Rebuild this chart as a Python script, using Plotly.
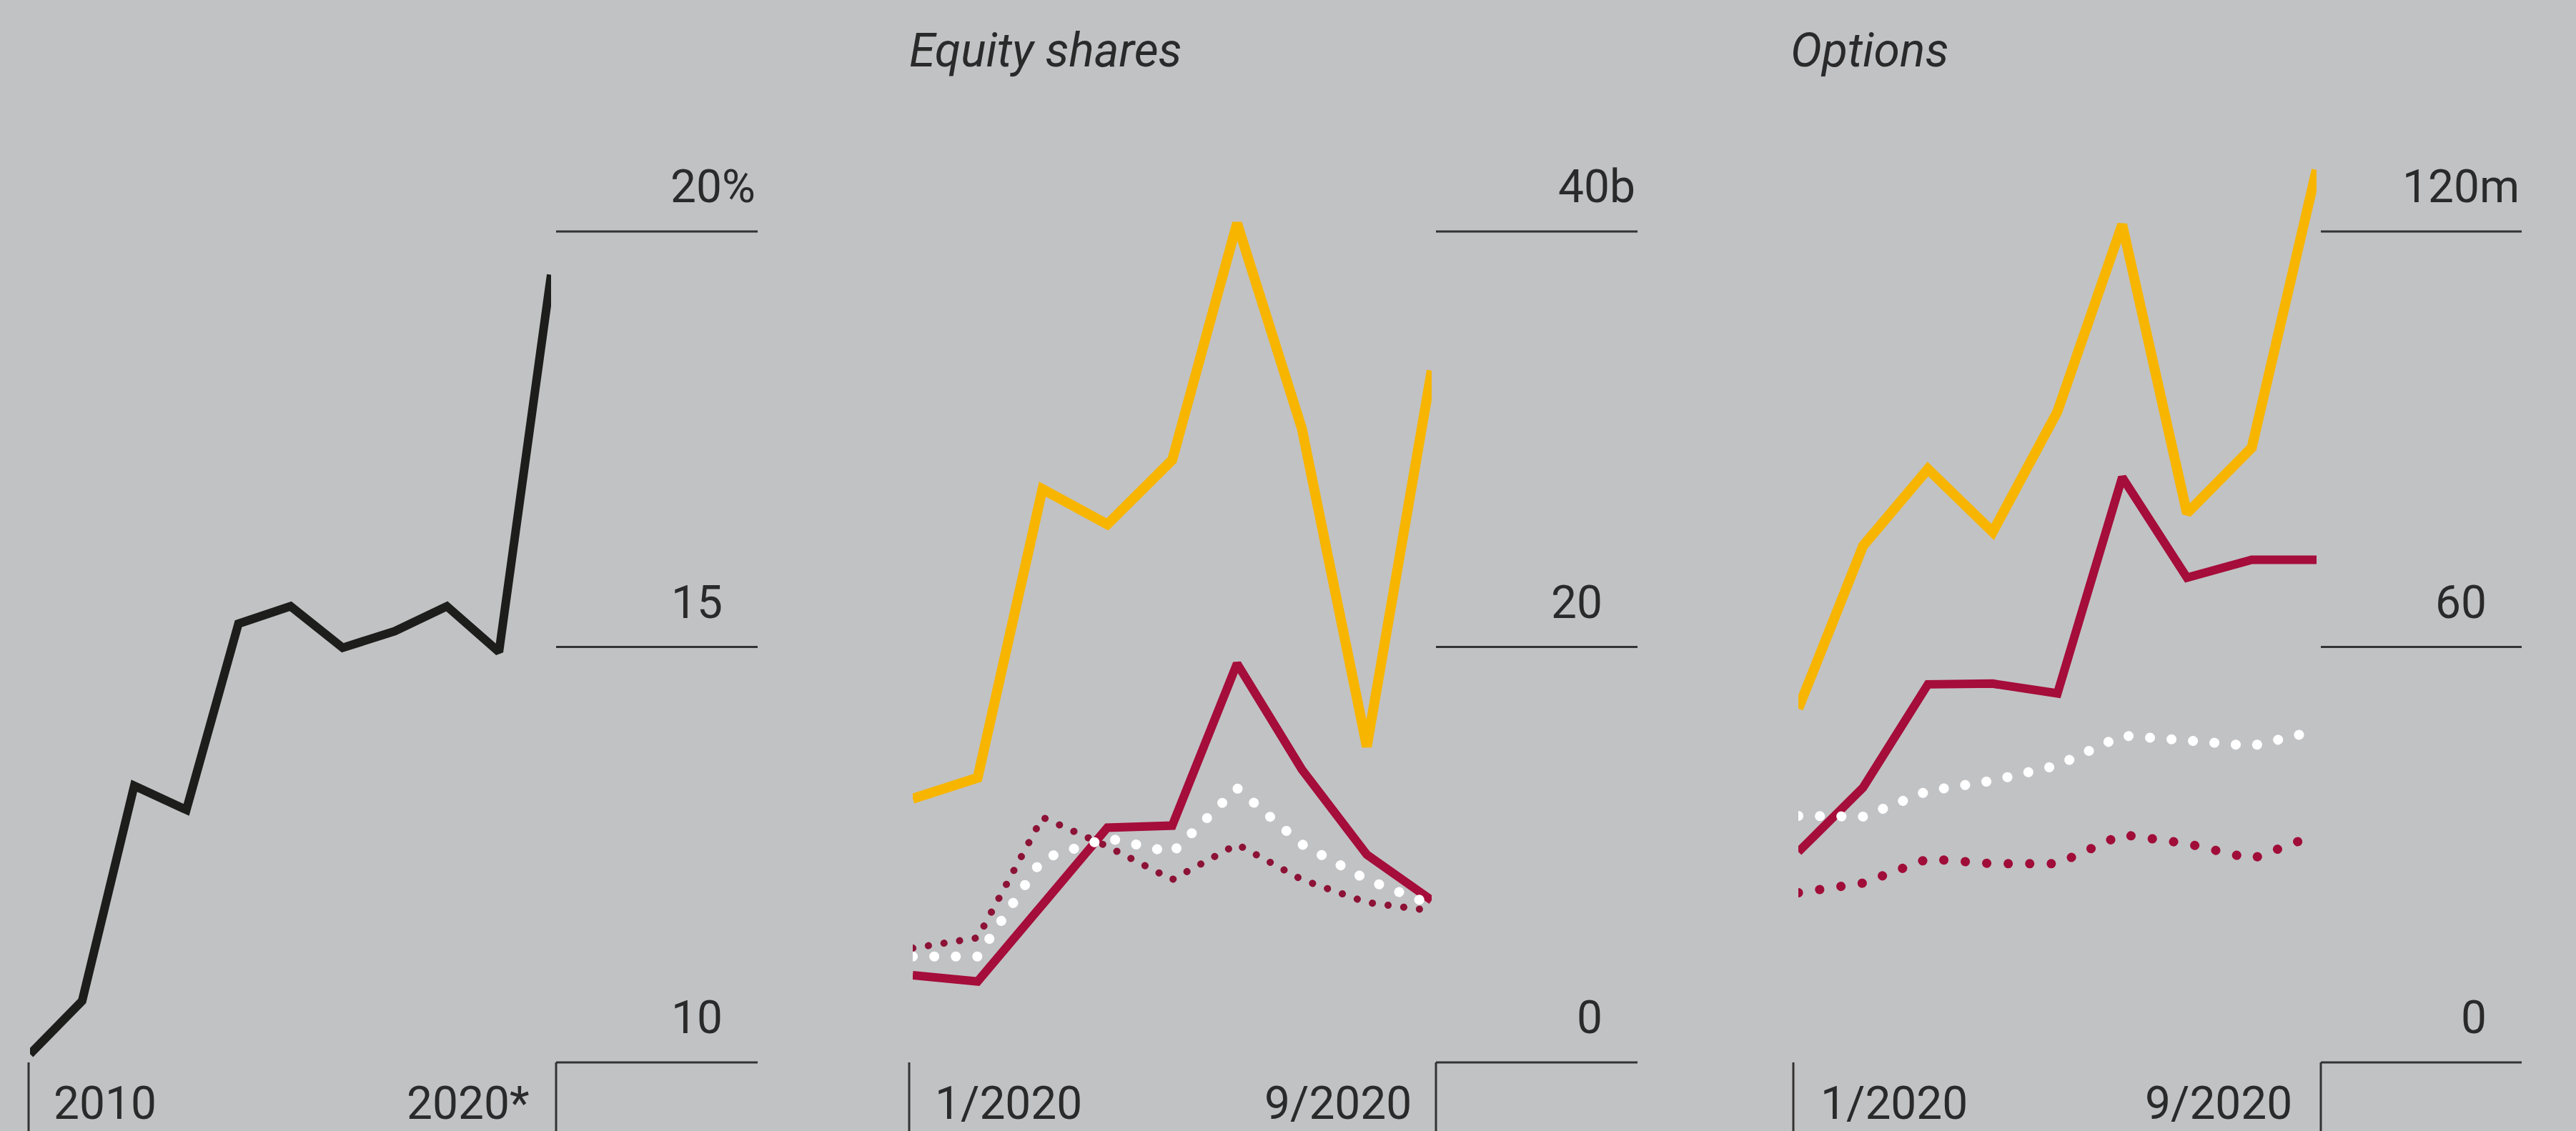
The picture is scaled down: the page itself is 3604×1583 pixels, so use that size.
import plotly.graph_objects as go

# ---------------- data ----------------
YEARS = [2010, 2011, 2012, 2013, 2014, 2015, 2016, 2017, 2018, 2019, 2020]
SHARE_PCT = [10.10, 10.74, 13.33, 13.04, 15.28, 15.49, 14.99, 15.19, 15.49, 14.94, 19.48]

MONTHS = ["1/2020", "2/2020", "3/2020", "4/2020", "5/2020", "6/2020", "7/2020", "8/2020", "9/2020"]

EQ_YELLOW = [12.7, 13.7, 27.6, 25.9, 29.0, 40.4, 30.5, 15.2, 33.3]
EQ_RED = [4.2, 3.9, 7.6, 11.3, 11.4, 19.2, 14.1, 10.0, 7.8]
EQ_WHITE_DOT = [5.1, 5.1, 9.8, 10.8, 10.1, 13.2, 10.5, 8.8, 7.6]
EQ_RED_DOT = [5.5, 6.0, 11.8, 10.4, 8.8, 10.5, 8.8, 7.7, 7.3]

OPT_YELLOW = [51.1, 74.6, 85.7, 76.6, 94.0, 121.0, 79.3, 88.8, 128.9]
OPT_RED = [30.4, 39.7, 54.6, 54.7, 53.3, 84.5, 70.0, 72.6, 72.6]
OPT_WHITE_DOT = [35.6, 35.5, 39.2, 40.7, 42.9, 47.2, 46.5, 45.7, 47.9]
OPT_RED_DOT = [24.5, 25.9, 29.4, 28.7, 28.7, 32.9, 31.6, 29.4, 32.9]

TITLES = ["", "Equity shares", "Options"]
TICKS = [[10, 15, 20], [0, 20, 40], [0, 60, 120]]
TICK_TEXT = [["10", "15", "20%"], ["0", "20", "40b"], ["0", "60", "120m"]]
X_LABELS = [["2010", "2020*"], ["1/2020", "9/2020"], ["1/2020", "9/2020"]]

# ---------------- layout geometry (pixels) ----------------
W, H = 3604, 1583
GRID_TOP_PX, GRID_BOT_PX = 324, 1487
PANELS = [
    dict(x0=42, x1=771, corner=778, gend=1060, ltick=40, lab_l=74, lab_r=741, title_x=None),
    dict(x0=1277, x1=2003, corner=2009, gend=2291, ltick=1272, lab_l=1307, lab_r=1976, title_x=1271),
    dict(x0=2516, x1=3241, corner=3247, gend=3528, ltick=2509, lab_l=2546, lab_r=3208, title_x=2504),
]

BG = "#c1c2c4"
INK = "#2a2a2a"
LINE_INK = "#333333"
YELLOW = "#f7b500"
RED = "#a50d3a"
RED_DOT2 = "#8c1236"
RED_DOT3 = "#a00d39"
BLACK = "#1d1d1b"
FONT = "Roboto"
FS = 64


def px2paper_x(px):
    return px / W


def px2paper_y(py):
    return 1 - py / H


def yrange(lo, hi):
    per = (hi - lo) / (GRID_BOT_PX - GRID_TOP_PX)
    return [lo - (H - GRID_BOT_PX) * per, hi + GRID_TOP_PX * per]


fig = go.Figure()

# panel 1
fig.add_trace(go.Scatter(x=YEARS, y=SHARE_PCT, mode="lines", xaxis="x", yaxis="y",
                         line=dict(color=BLACK, width=12), hoverinfo="skip"))

# panel 2
fig.add_trace(go.Scatter(x=MONTHS, y=EQ_RED_DOT, mode="lines", xaxis="x2", yaxis="y2",
                         line=dict(color=RED_DOT2, width=10, dash="0.1px,22px"), hoverinfo="skip"))
fig.add_trace(go.Scatter(x=MONTHS, y=EQ_RED, mode="lines", xaxis="x2", yaxis="y2",
                         line=dict(color=RED, width=12), hoverinfo="skip"))
fig.add_trace(go.Scatter(x=MONTHS, y=EQ_WHITE_DOT, mode="lines", xaxis="x2", yaxis="y2",
                         line=dict(color="#ffffff", width=14, dash="0.1px,30px"), hoverinfo="skip"))
fig.add_trace(go.Scatter(x=MONTHS, y=EQ_YELLOW, mode="lines", xaxis="x2", yaxis="y2",
                         line=dict(color=YELLOW, width=14), hoverinfo="skip"))

# panel 3
fig.add_trace(go.Scatter(x=MONTHS, y=OPT_RED_DOT, mode="lines", xaxis="x3", yaxis="y3",
                         line=dict(color=RED_DOT3, width=13, dash="0.1px,30px"), hoverinfo="skip"))
fig.add_trace(go.Scatter(x=MONTHS, y=OPT_RED, mode="lines", xaxis="x3", yaxis="y3",
                         line=dict(color=RED, width=12), hoverinfo="skip"))
fig.add_trace(go.Scatter(x=MONTHS, y=OPT_WHITE_DOT, mode="lines", xaxis="x3", yaxis="y3",
                         line=dict(color="#ffffff", width=14, dash="0.1px,30px"), hoverinfo="skip"))
fig.add_trace(go.Scatter(x=MONTHS, y=OPT_YELLOW, mode="lines", xaxis="x3", yaxis="y3",
                         line=dict(color=YELLOW, width=14), hoverinfo="skip"))

layout = dict(
    width=W, height=H,
    margin=dict(l=0, r=0, t=0, b=0),
    paper_bgcolor=BG, plot_bgcolor=BG,
    showlegend=False,
    font=dict(family=FONT, color=INK, size=FS),
)

x_ranges = [[YEARS[0], YEARS[-1]], [0, len(MONTHS) - 1], [0, len(MONTHS) - 1]]
shapes, annotations = [], []
for i, p in enumerate(PANELS):
    sfx = "" if i == 0 else str(i + 1)
    lo, hi = TICKS[i][0], TICKS[i][-1]
    layout["xaxis" + sfx] = dict(domain=[px2paper_x(p["x0"]), px2paper_x(p["x1"])],
                                 range=x_ranges[i], visible=False, fixedrange=True,
                                 anchor="y" + sfx)
    layout["yaxis" + sfx] = dict(domain=[0, 1], range=yrange(lo, hi), visible=False,
                                 fixedrange=True, anchor="x" + sfx)
    yref = "y" + sfx
    bottom = yrange(lo, hi)[0]
    # gridlines
    for t, txt in zip(TICKS[i], TICK_TEXT[i]):
        shapes.append(dict(type="line", xref="paper", yref=yref,
                           x0=px2paper_x(p["corner"]), x1=px2paper_x(p["gend"]), y0=t, y1=t,
                           line=dict(color=LINE_INK, width=3)))
        plain = txt[-1].isdigit()
        rx = p["gend"] - (48 if plain else 2)
        annotations.append(dict(xref="paper", yref=yref, x=px2paper_x(rx), y=t,
                                xanchor="right", yanchor="bottom", text=txt, showarrow=False,
                                yshift=24, borderpad=0,
                                font=dict(family=FONT, size=FS, color=INK)))
    # corner vertical and left tick
    shapes.append(dict(type="line", xref="paper", yref=yref,
                       x0=px2paper_x(p["corner"]), x1=px2paper_x(p["corner"]), y0=lo, y1=bottom,
                       line=dict(color=LINE_INK, width=3)))
    shapes.append(dict(type="line", xref="paper", yref=yref,
                       x0=px2paper_x(p["ltick"]), x1=px2paper_x(p["ltick"]), y0=lo, y1=bottom,
                       line=dict(color=LINE_INK, width=3)))
    # x labels
    annotations.append(dict(xref="paper", yref="paper", x=px2paper_x(p["lab_l"]),
                            y=0, xanchor="left", yanchor="bottom",
                            text=X_LABELS[i][0], showarrow=False, borderpad=0,
                            font=dict(family=FONT, size=FS, color=INK)))
    annotations.append(dict(xref="paper", yref="paper", x=px2paper_x(p["lab_r"]),
                            y=0, xanchor="right", yanchor="bottom",
                            text=X_LABELS[i][1], showarrow=False, borderpad=0,
                            font=dict(family=FONT, size=FS, color=INK)))
    if TITLES[i]:
        annotations.append(dict(xref="paper", yref="paper", x=px2paper_x(p["title_x"]),
                                y=px2paper_y(31), xanchor="left", yanchor="top",
                                text="<i>" + TITLES[i] + "</i>", showarrow=False, borderpad=0,
                                font=dict(family=FONT, size=FS + 2, color=INK)))

layout["shapes"] = shapes
layout["annotations"] = annotations
fig.update_layout(**layout)

post = """
document.body.style.margin = '0';
document.body.style.padding = '0';
document.body.style.background = '%s';
var gd = document.getElementById('{plot_id}');
function rc(){
  gd.querySelectorAll('path.js-line').forEach(function(p){
    var d = p.style.strokeDasharray;
    if (d && d !== 'none') { p.style.strokeLinecap = 'round'; }
  });
}
rc();
if (gd.on) { gd.on('plotly_afterplot', rc); }
""" % BG

fig.write_html("out.html", config={"displayModeBar": False, "staticPlot": True}, post_script=post)
